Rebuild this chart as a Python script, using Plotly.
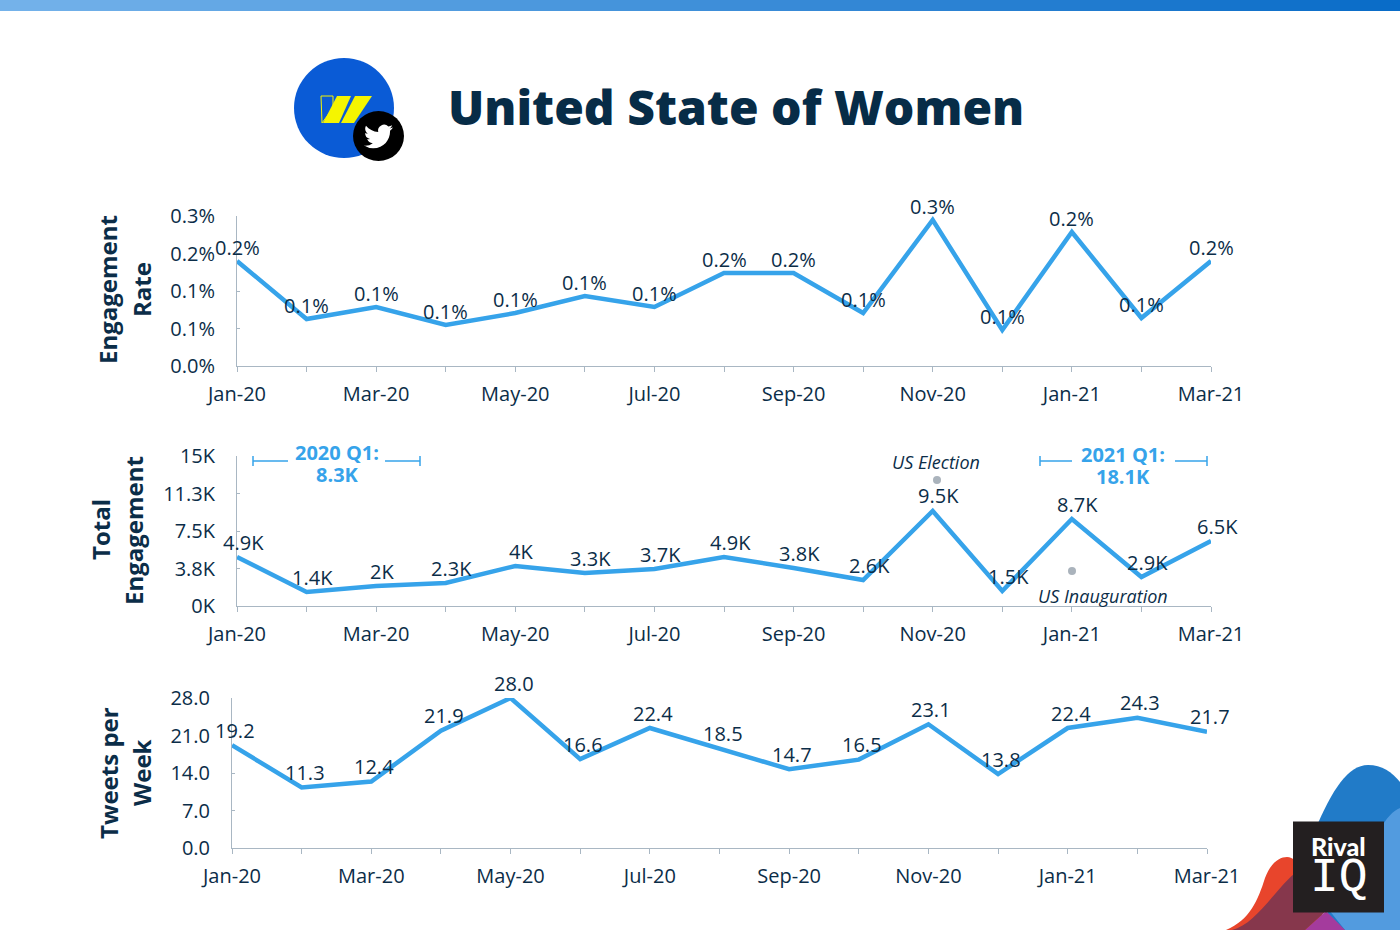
import plotly.graph_objects as go
from urllib.parse import quote

months = ["Jan-20","Feb-20","Mar-20","Apr-20","May-20","Jun-20","Jul-20","Aug-20","Sep-20","Oct-20","Nov-20","Dec-20","Jan-21","Feb-21","Mar-21"]
month_idx = list(range(15))

rate_values = [0.21,0.094,0.118,0.082,0.106,0.14,0.118,0.186,0.186,0.106,0.292,0.072,0.268,0.096,0.21]
rate_labels = ["0.2%","0.1%","0.1%","0.1%","0.1%","0.1%","0.1%","0.2%","0.2%","0.1%","0.3%","0.1%","0.2%","0.1%","0.2%"]
rate_ticks = [0,0.075,0.15,0.225,0.3]
rate_tick_text = ["0.0%","0.1%","0.1%","0.2%","0.3%"]

eng_values = [4.9,1.4,2.0,2.3,4.0,3.3,3.7,4.9,3.8,2.6,9.5,1.5,8.7,2.9,6.5]
eng_labels = ["4.9K","1.4K","2K","2.3K","4K","3.3K","3.7K","4.9K","3.8K","2.6K","9.5K","1.5K","8.7K","2.9K","6.5K"]
eng_ticks = [0,3.75,7.5,11.25,15]
eng_tick_text = ["0K","3.8K","7.5K","11.3K","15K"]

tweet_values = [19.2,11.3,12.4,21.9,28.0,16.6,22.4,18.5,14.7,16.5,23.1,13.8,22.4,24.3,21.7]
tweet_labels = [f"{v:.1f}" for v in tweet_values]
tweet_ticks = [0,7,14,21,28]
tweet_tick_text = ["0.0","7.0","14.0","21.0","28.0"]

NAVY = "#0b2d48"
BLUE = "#36a3ea"
AXIS = "#a9b7c3"
FONT = "Open Sans"
W, H = 1400, 930

fig = go.Figure()
anns = []

panels = [
    (rate_values, rate_labels, rate_ticks, rate_tick_text, 237, 1211, 216, 366, [0, 0.3], 0, 14),
    (eng_values, eng_labels, eng_ticks, eng_tick_text, 237, 1211, 456, 606, [0, 15], 6, 15),
    (tweet_values, tweet_labels, tweet_ticks, tweet_tick_text, 232, 1207, 698, 848, [0, 28], 3, 15),
]
layout = {}
for i, (vals, labs, ticks, ticktext, x0, x1, y0, y1, yr, lab_dx, lab_dy) in enumerate(panels, start=1):
    s = "" if i == 1 else str(i)
    fig.add_trace(go.Scatter(
        x=month_idx, y=vals, mode="lines", cliponaxis=False,
        line=dict(color=BLUE, width=4.5), xaxis="x"+s, yaxis="y"+s, hoverinfo="skip", showlegend=False))
    for m, v, lab in zip(month_idx, vals, labs):
        anns.append(dict(x=m, y=v, xref="x"+s, yref="y"+s, text=lab, showarrow=False, xshift=lab_dx, yshift=lab_dy,
                         xanchor="center", yanchor="middle", font=dict(family=FONT, size=20, color=NAVY)))
    layout["xaxis"+s] = dict(domain=[x0/W, x1/W], range=[0,14], anchor="y"+s, tickmode="array",
        tickvals=month_idx, ticktext=[months[k] if k % 2 == 0 else "" for k in month_idx],
        ticks="outside", ticklen=5, tickwidth=1, tickcolor=AXIS, showline=True, linecolor=AXIS, linewidth=1,
        showgrid=False, zeroline=False, tickangle=0, ticklabelstandoff=5,
        tickfont=dict(family=FONT, size=20, color=NAVY))
    layout["yaxis"+s] = dict(domain=[1-y1/H, 1-y0/H], range=yr, anchor="x"+s, tickmode="array",
        tickvals=ticks, ticktext=ticktext, ticks="inside", ticklen=3, tickwidth=1, tickcolor=AXIS,
        showline=True, linecolor=AXIS, linewidth=1, showgrid=False, zeroline=False, ticklabelstandoff=17,
        tickfont=dict(family=FONT, size=20, color=NAVY))

# Full-page overlay axes for decorations, in pixel units
fig.add_trace(go.Scatter(x=[0], y=[0], mode="markers", marker=dict(opacity=0), xaxis="x4", yaxis="y4",
                         hoverinfo="skip", showlegend=False))
layout["xaxis4"] = dict(domain=[0,1], range=[0,W], visible=False, anchor="y4", fixedrange=True)
layout["yaxis4"] = dict(domain=[0,1], range=[H,0], visible=False, anchor="x4", fixedrange=True)

shapes = []
def sh(**k):
    d = dict(xref="x4", yref="y4", layer="below")
    d.update(k)
    shapes.append(d)

def lerp(a, b, t):
    return tuple(round(a[j]+(b[j]-a[j])*t) for j in range(3))
N = 70
for k in range(N):
    c = lerp((116,178,234), (9,108,200), k/(N-1))
    sh(type="rect", x0=k*W/N, x1=(k+1)*W/N+1, y0=0, y1=11, fillcolor=f"rgb{c}", line=dict(width=0))

# Logo
sh(type="circle", x0=294, x1=394, y0=58, y1=158, fillcolor="#0a5bd6", line=dict(width=0))
sh(type="path", path="M321,96 L333,96 L333,108 L322,123 Z", fillcolor="rgba(0,0,0,0)", line=dict(color="#f5f500", width=1))
sh(type="path", path="M337,96 L351,96 L339,123 L323,123 Z", fillcolor="#f5f500", line=dict(width=0))
sh(type="path", path="M355,96 L372,96 L354,123 L341,123 Z", fillcolor="#f5f500", line=dict(width=0))
sh(type="circle", x0=353, x1=404, y0=111, y1=161, fillcolor="#000000", line=dict(width=0))

# Brackets
for a, b, c, d in [(253,288,385,420), (1040,1072,1175,1207)]:
    sh(type="line", x0=a, x1=b, y0=461, y1=461, line=dict(color=BLUE, width=1.5))
    sh(type="line", x0=c, x1=d, y0=461, y1=461, line=dict(color=BLUE, width=1.5))
    sh(type="line", x0=a, x1=a, y0=456, y1=466, line=dict(color=BLUE, width=1.5))
    sh(type="line", x0=d, x1=d, y0=456, y1=466, line=dict(color=BLUE, width=1.5))

# Event dots
for cx, cy in [(937,480), (1072,571)]:
    sh(type="circle", x0=cx-4, x1=cx+4, y0=cy-4, y1=cy+4, fillcolor="#aab3bc", line=dict(width=0))

# Corner blobs
sh(type="path", path="M1315,830 C1332,790 1348,765 1368,765 C1382,765 1392,772 1400,782 L1400,930 L1330,930 Z", fillcolor="#217bc8", line=dict(width=0))
sh(type="path", path="M1380,830 C1386,818 1393,811 1400,808 L1400,930 L1345,930 L1325,905 Z", fillcolor="#529bdf", line=dict(width=0))
sh(type="path", path="M1226,930 C1250,920 1258,900 1265,878 C1271,862 1280,857 1287,857 C1293,857 1298,862 1300,870 L1330,930 Z", fillcolor="#e8452c", line=dict(width=0))
sh(type="path", path="M1305,930 L1326,911 L1345,930 Z", fillcolor="#a43b9d", line=dict(width=0))
sh(type="path", path="M1232,930 C1255,925 1275,890 1294,874 L1326,911 L1305,930 Z", fillcolor="#86374c", line=dict(width=0))
sh(type="rect", x0=1293, x1=1384, y0=821.5, y1=912.5, fillcolor="#231f20", line=dict(width=0))

def txt(x, y, t, size=19, color=NAVY, bold=False, italic=False, angle=0, family=FONT, weight=None):
    f = dict(family=family, size=size, color=color)
    if weight: f["weight"] = weight
    elif bold: f["weight"] = 700
    if italic: f["style"] = "italic"
    anns.append(dict(x=x, y=y, xref="x4", yref="y4", text=t, showarrow=False, font=f,
                     textangle=angle, xanchor="center", yanchor="middle"))

txt(735.5, 106, "United State of Women", size=48, color="#072c47", weight=800)
txt(107, 290, "Engagement", size=24, bold=True, angle=-90)
txt(141, 290, "Rate", size=24, bold=True, angle=-90)
txt(100, 530, "Total", size=24, bold=True, angle=-90)
txt(133, 531, "Engagement", size=24, bold=True, angle=-90)
txt(108, 773, "Tweets per", size=24, bold=True, angle=-90)
txt(141, 773, "Week", size=24, bold=True, angle=-90)
txt(337, 452, "2020 Q1:", size=20, color=BLUE, bold=True)
txt(337, 474, "8.3K", size=20, color=BLUE, bold=True)
txt(1123, 454, "2021 Q1:", size=20, color=BLUE, bold=True)
txt(1123, 476, "18.1K", size=20, color=BLUE, bold=True)
txt(936, 462, "US Election", size=18, italic=True)
txt(1103, 596, "US Inauguration", size=18, italic=True)
txt(1338, 846, "Rival", size=25, color="#ffffff", family="Lato", weight=900)
txt(1339, 878, "IQ", size=48, color="#ffffff", family="Liberation Mono")

bird = ("M23.953 4.57a10 10 0 01-2.825.775 4.958 4.958 0 002.163-2.723c-.951.555-2.005.959-3.127 1.184a4.92 4.92 0 00-8.384 4.482"
        "C7.69 8.095 4.067 6.13 1.64 3.162a4.822 4.822 0 00-.666 2.475c0 1.71.87 3.213 2.188 4.096a4.904 4.904 0 01-2.228-.616v.06"
        "a4.923 4.923 0 003.946 4.827 4.996 4.996 0 01-2.212.085 4.936 4.936 0 004.604 3.417 9.867 9.867 0 01-6.102 2.105"
        "c-.39 0-.779-.023-1.17-.067a13.995 13.995 0 007.557 2.209c9.053 0 13.998-7.496 13.998-13.985 0-.21 0-.42-.015-.63"
        "A9.935 9.935 0 0024 4.59z")
svg = f'<svg xmlns="http://www.w3.org/2000/svg" viewBox="0 0 24 24"><path fill="#ffffff" d="{bird}"/></svg>'
images = [dict(source="data:image/svg+xml," + quote(svg), xref="x4", yref="y4", x=364, y=122, sizex=29, sizey=29,
               xanchor="left", yanchor="top", layer="above", sizing="contain")]

fig.update_layout(width=W, height=H, margin=dict(l=0, r=0, t=0, b=0, autoexpand=False), paper_bgcolor="#ffffff",
                  plot_bgcolor="rgba(0,0,0,0)", shapes=shapes, annotations=anns, images=images,
                  hovermode=False, **layout)
fig.write_html("out.html", post_script="document.body.style.margin='0';", config={"displayModeBar": False})
